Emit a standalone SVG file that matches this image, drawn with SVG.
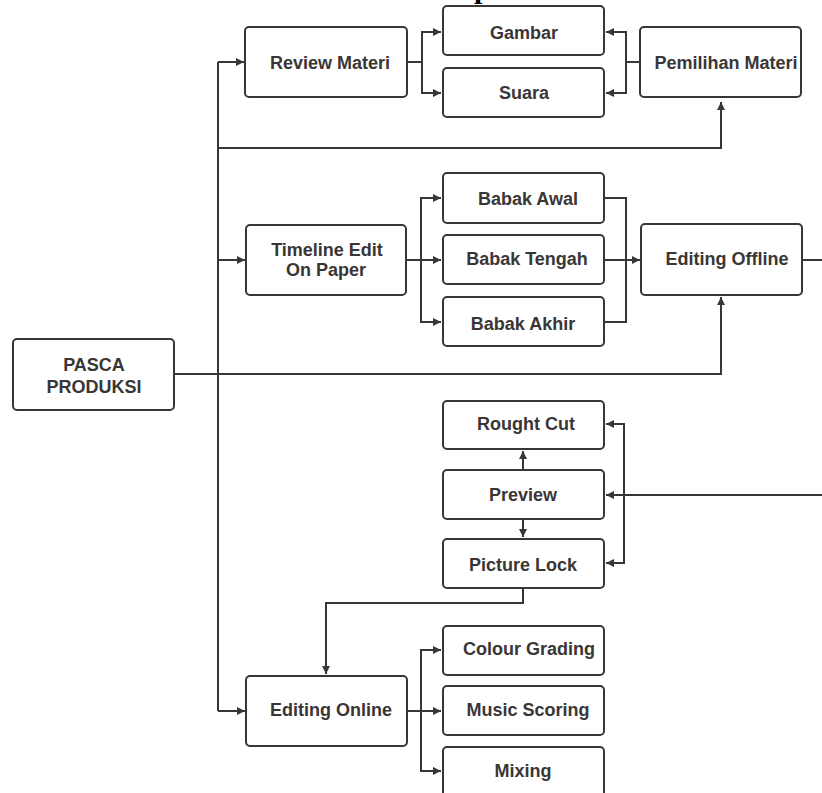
<svg xmlns="http://www.w3.org/2000/svg" width="822" height="793" viewBox="0 0 822 793">
<style>
.box{fill:#fff;stroke:#3b3636;stroke-width:2}
.lbl{font-family:"Liberation Sans",Arial,sans-serif;font-weight:bold;font-size:18px;fill:#3a3636;text-anchor:middle}
.c{fill:none;stroke:#3b3636;stroke-width:2}
.a{marker-end:url(#ah)}
</style>
<defs>
<marker id="ah" viewBox="0 0 8 8" refX="8" refY="4" markerWidth="8" markerHeight="8" markerUnits="userSpaceOnUse" orient="auto">
<path d="M0,0 L8,4 L0,8 z" fill="#3b3636"/>
</marker>
</defs>
<rect width="822" height="793" fill="#fff"/>
<text x="474" y="-2" font-family="'Liberation Serif',serif" font-weight="bold" font-size="30" fill="#000">p</text>
<g id="connectors">
<path class="c a" d="M174,374 H721 V297"/>
<path class="c" d="M218,62 V711"/>
<path class="c a" d="M218,62 H244"/>
<path class="c a" d="M218,148 H721 V102"/>
<path class="c a" d="M218,260 H245"/>
<path class="c a" d="M218,711 H245"/>
<path class="c" d="M407,62 H422"/>
<path class="c a" d="M422,62 V32 H441"/>
<path class="c a" d="M422,62 V93 H441"/>
<path class="c" d="M640,62 H626"/>
<path class="c a" d="M626,62 V32 H606"/>
<path class="c a" d="M626,62 V93 H606"/>
<path class="c a" d="M406,260 H441"/>
<path class="c a" d="M421,260 V198 H441"/>
<path class="c a" d="M421,260 V322 H441"/>
<path class="c" d="M604,198 H626 V322 H604"/>
<path class="c a" d="M604,260 H640"/>
<path class="c" d="M802,260 H822"/>
<path class="c a" d="M822,495 H606"/>
<path class="c a" d="M624,495 V424 H606"/>
<path class="c a" d="M624,495 V563 H606"/>
<path class="c a" d="M523,470 V451"/>
<path class="c a" d="M523,519 V537"/>
<path class="c a" d="M523,588 V603 H326 V674"/>
<path class="c a" d="M407,711 H441"/>
<path class="c a" d="M421,711 V650 H441"/>
<path class="c a" d="M421,711 V771 H441"/>
</g>
<g id="pasca"><rect class="box" x="13" y="339" width="161" height="71" rx="4"/><text class="lbl" x="94" y="371">PASCA</text><text class="lbl" x="94" y="393">PRODUKSI</text></g>
<g id="review"><rect class="box" x="245" y="27" width="162" height="70" rx="4"/><text class="lbl" x="330" y="69">Review Materi</text></g>
<g id="gambar"><rect class="box" x="443" y="6" width="161" height="49" rx="4"/><text class="lbl" x="524" y="39">Gambar</text></g>
<g id="suara"><rect class="box" x="443" y="68" width="161" height="49" rx="4"/><text class="lbl" x="524" y="99">Suara</text></g>
<g id="pemilihan"><rect class="box" x="640" y="27" width="161" height="70" rx="4"/><text class="lbl" x="726" y="69">Pemilihan Materi</text></g>
<g id="timeline"><rect class="box" x="246" y="225" width="160" height="70" rx="4"/><text class="lbl" x="327" y="256">Timeline Edit</text><text class="lbl" x="326" y="276">On Paper</text></g>
<g id="awal"><rect class="box" x="443" y="173" width="161" height="50" rx="4"/><text class="lbl" x="528" y="205">Babak Awal</text></g>
<g id="tengah"><rect class="box" x="443" y="235" width="161" height="49" rx="4"/><text class="lbl" x="527" y="265">Babak Tengah</text></g>
<g id="akhir"><rect class="box" x="443" y="297" width="161" height="49" rx="4"/><text class="lbl" x="523" y="330">Babak Akhir</text></g>
<g id="offline"><rect class="box" x="641" y="224" width="161" height="71" rx="4"/><text class="lbl" x="727" y="265">Editing Offline</text></g>
<g id="rought"><rect class="box" x="443" y="401" width="161" height="48" rx="4"/><text class="lbl" x="526" y="430">Rought Cut</text></g>
<g id="preview"><rect class="box" x="443" y="470" width="161" height="49" rx="4"/><text class="lbl" x="523" y="501">Preview</text></g>
<g id="picture"><rect class="box" x="443" y="539" width="161" height="49" rx="4"/><text class="lbl" x="523" y="571">Picture Lock</text></g>
<g id="online"><rect class="box" x="246" y="676" width="161" height="70" rx="4"/><text class="lbl" x="331" y="716">Editing Online</text></g>
<g id="colour"><rect class="box" x="443" y="626" width="161" height="49" rx="4"/><text class="lbl" x="529" y="655">Colour Grading</text></g>
<g id="music"><rect class="box" x="443" y="686" width="161" height="49" rx="4"/><text class="lbl" x="528" y="716">Music Scoring</text></g>
<g id="mixing"><rect class="box" x="443" y="747" width="161" height="52" rx="4"/><text class="lbl" x="523" y="777">Mixing</text></g>
</svg>
